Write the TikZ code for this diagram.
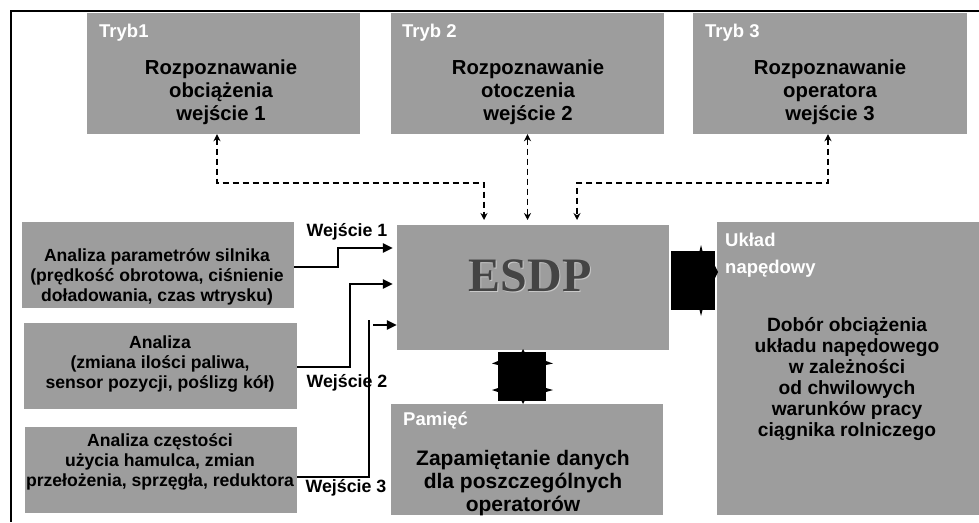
\documentclass[tikz,border=0pt]{standalone}
\usepackage{fontspec}
\setmainfont{Liberation Sans}
\newfontfamily\serifesdp{Liberation Serif}
\usetikzlibrary{arrows.meta}
\definecolor{boxgray}{HTML}{9D9D9D}
\definecolor{esdpgray}{HTML}{444444}
\begin{document}
\begin{tikzpicture}[x=1pt,y=-1pt,
  box/.style={fill=boxgray, draw=none, inner sep=0pt},
  body/.style={font=\bfseries\fontsize{20.3}{23}\selectfont, align=center, inner sep=0pt},
  lbody/.style={font=\bfseries\fontsize{17.6}{20}\selectfont, align=center, inner sep=0pt},
  title/.style={font=\bfseries\fontsize{18.5}{27}\selectfont, text=white, align=left, inner sep=0pt, anchor=west},
  inlab/.style={font=\bfseries\fontsize{17.8}{20}\selectfont, inner sep=0pt},
  dasharrow/.style={line width=1.8pt, dash pattern=on 6pt off 4pt, {Stealth[length=7pt,width=7pt]}-{Stealth[length=7pt,width=7pt]}},
  dashline/.style={line width=1.8pt, dash pattern=on 6pt off 4pt},
  solidarrow/.style={line width=2.8pt, -{Triangle[length=10pt,width=9pt]}},
  frameline/.style={line width=2.8pt}
]
\useasboundingbox (0,0) rectangle (979,522);
% frame
\draw[frameline] (979,11) -- (11,11) -- (11,522);

% mode boxes
\node[box, minimum width=273pt, minimum height=121pt] (t1) at (223.5,73.5) {};
\node[box, minimum width=273pt, minimum height=121pt] (t2) at (527.5,73.5) {};
\node[box, minimum width=274pt, minimum height=121pt] (t3) at (830,73.5) {};
\node[title] (t1t) at (99,33) {Tryb1};
\node[title] (t2t) at (402,33) {Tryb 2};
\node[title] (t3t) at (705,33) {Tryb 3};
\node[body] (t1b) at (221,92) {Rozpoznawanie\\obciążenia\\wejście 1};
\node[body] (t2b) at (528,92) {Rozpoznawanie\\otoczenia\\wejście 2};
\node[body] (t3b) at (830,92) {Rozpoznawanie\\operatora\\wejście 3};

% analysis boxes
\node[box, minimum width=272pt, minimum height=86pt] (a1) at (158,265) {};
\node[box, minimum width=273pt, minimum height=86pt] (a2) at (160.5,366) {};
\node[box, minimum width=272pt, minimum height=86pt] (a3) at (161,470) {};
\node[lbody] (a1b) at (157,277) {Analiza parametrów silnika\\(prędkość obrotowa, ciśnienie\\doładowania, czas wtrysku)};
\node[lbody] (a2b) at (160,364) {Analiza\\(zmiana ilości paliwa,\\sensor pozycji, poślizg kół)};
\node[lbody] (a3b) at (160,462) {Analiza częstości\\użycia hamulca, zmian\\przełożenia, sprzęgła, reduktora};

% ESDP
\node[box, minimum width=272pt, minimum height=125pt] (e) at (533,287.5) {};
\node[font=\serifesdp\bfseries\fontsize{48}{50}\selectfont, text=boxgray!55!white, inner sep=0pt] (eshadow) at (531,277) {ESDP};
\node[font=\serifesdp\bfseries\fontsize{48}{50}\selectfont, text=esdpgray, inner sep=0pt] (et) at (530,276) {ESDP};

% memory
\node[box, minimum width=272pt, minimum height=111pt] (m) at (527,459.5) {};
\node[title] (mt) at (403,421) {Pamięć};
\node[body, font=\bfseries\fontsize{21}{23}\selectfont] (mb) at (523,483) {Zapamiętanie danych\\dla poszczególnych\\operatorów};

% drive system
\node[box, minimum width=262pt, minimum height=293pt] (u) at (848,368.5) {};
\node[title] (ut) at (725,255) {Układ\\napędowy};
\node[body, font=\bfseries\fontsize{19.2}{21}\selectfont] (ub) at (847,379) {Dobór obciążenia\\układu napędowego\\w zależności\\od chwilowych\\warunków pracy\\ciągnika rolniczego};

% dashed connections
\coordinate (d1) at (484,183);
\coordinate (d1e) at (484,220);
\coordinate (d3) at (577,183);
\coordinate (d3e) at (577,220);
\draw[dashline, {Stealth[length=7pt,width=7pt]}-{Stealth[length=7pt,width=7pt]}] ([xshift=-6.5pt]t1.south) |- (d1) -- (d1e);
\draw[dasharrow] (t2.south) -- (t2.south |- d1e);
\draw[dashline, {Stealth[length=7pt,width=7pt]}-{Stealth[length=7pt,width=7pt]}] ([xshift=-2pt]t3.south) |- (d3) -- (d3e);

% solid inputs
\coordinate (w1) at (338,267);
\coordinate (w2) at (350,367);
\coordinate (w3) at (369,477);
\draw[solidarrow] (a1.east |- w1) -- (w1) -- (338,248) -- ([xshift=-4pt]e.west |- 0,248);
\draw[solidarrow] (a2.east |- w2) -- (w2) -- (350,284) -- ([xshift=-4pt]e.west |- 0,284);
\draw[line width=2.8pt] (a3.east |- w3) -- (w3) -- (369,320);
\draw[solidarrow] (373,325) -- (e.west |- 0,325);
\node[inlab] (l1) at (347,232) {Wejście 1};
\node[inlab] (l2) at (347,383) {Wejście 2};
\node[inlab] (l3) at (346,488) {Wejście 3};

% black block arrows (rendered as blocks)
\fill (671,251) rectangle (715,310);
\fill (699.5,251) -- (701,245) -- (702.5,251) -- cycle;
\fill (699.5,310) -- (701,316) -- (702.5,310) -- cycle;
\fill (715,266) -- (718,272) -- (715,278) -- cycle;
\fill (498,352) rectangle (546,401);
\fill (521.5,352) -- (523,349) -- (524.5,352) -- cycle;
\fill (521.5,401) -- (523,404) -- (524.5,401) -- cycle;
\fill (498,361) -- (492,363.5) -- (498,365) -- cycle;
\fill (498,388) -- (492,390) -- (498,392) -- cycle;
\fill (546,361) -- (553,363.5) -- (546,365) -- cycle;
\fill (546,388) -- (553,390) -- (546,392) -- cycle;
\end{tikzpicture}
\end{document}
